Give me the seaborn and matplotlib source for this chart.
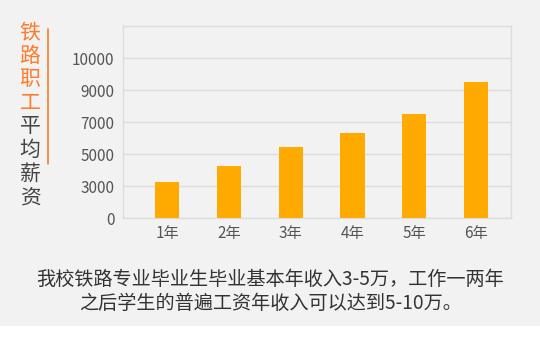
import numpy as np
import matplotlib
matplotlib.use("Agg")
import matplotlib.pyplot as plt
import seaborn as sns

# data
years = ["1年", "2年", "3年", "4年", "5年", "6年"]
salary = [3250, 4270, 5460, 6340, 7520, 9260]
tick_values = [0, 3000, 5000, 7000, 9000, 10000]
tick_labels = ["0", "3000", "5000", "7000", "9000", "10000"]
title_hi = "铁路职工"
title_lo = "平均薪资"
footer = ["我校铁路专业毕业生毕业基本年收入3-5万，工作一两年",
          "之后学生的普遍工资年收入可以达到5-10万。"]

sns.set_theme(style="white")
plt.rcParams["font.family"] = ["Noto Sans CJK SC", "DejaVu Sans"]

BG = "#f2f2f2"
BAR = "#ffaa00"
ORANGE = "#ff7a2a"
GRID = "#dddddd"

# the axis labels are equally spaced though not equal steps, so use a piecewise scale
scale_vals = tick_values + [11000]
scale_pos = list(range(len(scale_vals)))


def fwd(v):
    return np.interp(v, scale_vals, scale_pos)


def inv(p):
    return np.interp(p, scale_pos, scale_vals)


fig = plt.figure(figsize=(5.4, 3.55), dpi=100)
fig.patch.set_facecolor("white")
# grey panel behind everything except the bottom strip
fig.patches.append(plt.Rectangle((0, 29 / 355), 1, 326 / 355, transform=fig.transFigure,
                                 facecolor=BG, edgecolor="none", zorder=-10))

ax = fig.add_axes([122.7 / 540, 1 - 218.3 / 355, 388 / 540, 192.3 / 355])
ax.set_facecolor(BG)
ax.set_yscale("function", functions=(fwd, inv))

sns.barplot(x=years, y=salary, ax=ax, color=BAR, width=0.39, saturation=1,
            linewidth=0, zorder=3)

ax.set_ylim(0, 11000)
ax.set_xlim(-0.72, 5.56)
ax.set_yticks(tick_values)
ax.set_yticklabels(tick_labels)
ax.minorticks_off()
ax.yaxis.grid(True, color=GRID, linewidth=1)
ax.set_axisbelow(True)
for s in ax.spines.values():
    s.set_color(GRID)
    s.set_linewidth(1)
ax.tick_params(axis="both", length=0, colors="#555555", labelsize=11)
ax.tick_params(axis="y", pad=6)
ax.tick_params(axis="x", pad=5)
ax.set_xlabel("")
ax.set_ylabel("")

# vertical title at the left
for i, ch in enumerate(title_hi + title_lo):
    col = ORANGE if i < len(title_hi) else "#444444"
    fig.text(30 / 540, 1 - (32 + i * 23.6) / 355, ch, color=col, fontsize=15,
             ha="center", va="center")
fig.add_artist(plt.Line2D([48 / 540, 48 / 540], [1 - 29 / 355, 1 - 164 / 355],
                          color=ORANGE, linewidth=1.2, transform=fig.transFigure))

# footer text
fig.text(270 / 540, 1 - 279 / 355, footer[0], color="#333333", fontsize=13.8,
         ha="center", va="center")
fig.text(270 / 540, 1 - 303 / 355, footer[1], color="#333333", fontsize=13.8,
         ha="center", va="center")

fig.savefig("out.png", dpi=100)
plt.close(fig)
